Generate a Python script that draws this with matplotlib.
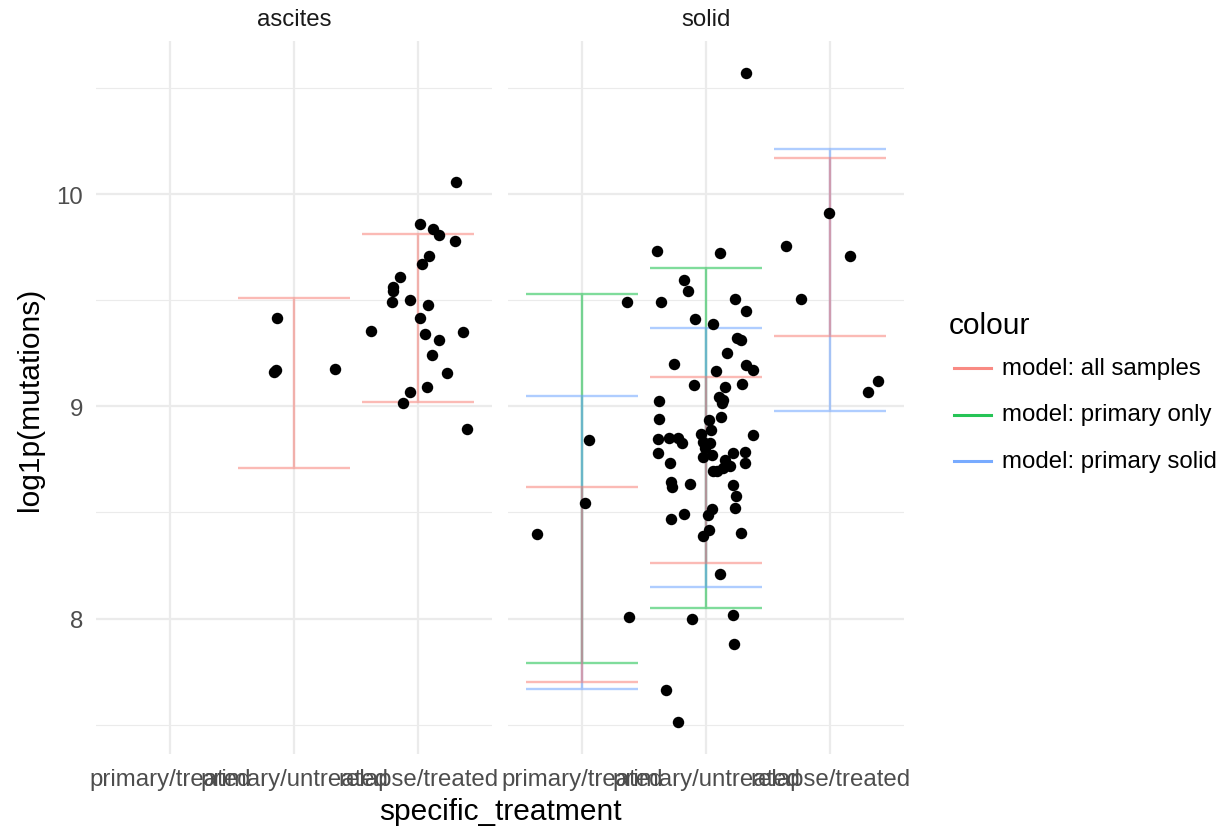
import numpy as np
import pandas as pd
import matplotlib
matplotlib.use("Agg")
import matplotlib.pyplot as plt
from matplotlib.lines import Line2D

plt.rcParams["font.family"] = ["Liberation Sans", "DejaVu Sans"]

# ==========================================
# DATA
# ==========================================
treatments = ["primary/treated", "primary/untreated", "relapse/treated"]
facets = ["ascites", "solid"]
model_names = ["model: all samples", "model: primary only", "model: primary solid"]
model_colors = ["#F8766D", "#00BA38", "#619CFF"]
# drawing order of the intervals (last one ends up on top)
draw_order = ["model: primary only", "model: primary solid", "model: all samples"]

# observed samples (jitter offset, log1p(mutations))
asc_untreated_jit = [-0.135, -0.145, -0.161, 0.331]
asc_untreated_val = [9.416, 9.169, 9.163, 9.175]

asc_relapse_jit = [0.306, 0.016, 0.119, 0.172, 0.298, 0.086, 0.032, -0.143,
                   -0.199, -0.204, -0.210, -0.062, 0.081, 0.016, -0.381, 0.056,
                   0.365, 0.172, 0.115, 0.231, 0.073, -0.067, -0.121, 0.395]
asc_relapse_val = [10.058, 9.859, 9.836, 9.808, 9.779, 9.706, 9.670, 9.607,
                   9.562, 9.541, 9.492, 9.502, 9.479, 9.416, 9.355, 9.339,
                   9.349, 9.313, 9.244, 9.158, 9.091, 9.066, 9.016, 8.892]

sol_treated_jit = [0.365, 0.056, 0.024, -0.365, 0.381]
sol_treated_val = [9.492, 8.842, 8.545, 8.399, 8.008]

sol_untreated_jit = [0.323, -0.393, 0.113, -0.177, -0.143, -0.363, 0.236, 0.323,
                     -0.089, 0.059, 0.252, 0.282, 0.169, -0.260, 0.323, 0.381,
                     0.078, -0.094, 0.153, 0.288, 0.105, 0.140, 0.127, -0.381,
                     -0.377, 0.027, 0.119, 0.038, -0.043, 0.381, -0.385, -0.296,
                     -0.228, -0.196, -0.022, 0.032, -0.008, 0.046, -0.022, -0.385,
                     -0.290, 0.220, 0.315, 0.153, 0.194, 0.140, 0.086, 0.315,
                     0.059, -0.282, -0.276, -0.127, 0.220, 0.242, 0.234, 0.046,
                     0.019, -0.175, -0.282, 0.024, -0.027, 0.282, 0.113, -0.115,
                     0.220, 0.228, -0.323, -0.228]
sol_untreated_val = [10.568, 9.731, 9.724, 9.593, 9.545, 9.493, 9.506, 9.449,
                     9.412, 9.386, 9.323, 9.313, 9.252, 9.199, 9.194, 9.170,
                     9.166, 9.100, 9.089, 9.103, 9.046, 9.030, 9.014, 9.023,
                     8.940, 8.936, 8.948, 8.889, 8.869, 8.865, 8.845, 8.850,
                     8.850, 8.826, 8.834, 8.826, 8.803, 8.771, 8.759, 8.779,
                     8.732, 8.779, 8.787, 8.748, 8.717, 8.709, 8.696, 8.732,
                     8.693, 8.643, 8.618, 8.632, 8.628, 8.579, 8.523, 8.516,
                     8.486, 8.493, 8.469, 8.419, 8.388, 8.404, 8.208, 7.997,
                     8.016, 7.879, 7.663, 7.515]

sol_relapse_jit = [-0.006, -0.355, 0.161, -0.236, 0.385, 0.304]
sol_relapse_val = [9.911, 9.753, 9.708, 9.504, 9.119, 9.066]

# model intervals
err_facet = ["ascites", "ascites",
             "solid", "solid", "solid",
             "solid", "solid", "solid",
             "solid", "solid"]
err_treat = ["primary/untreated", "relapse/treated",
             "primary/treated", "primary/treated", "primary/treated",
             "primary/untreated", "primary/untreated", "primary/untreated",
             "relapse/treated", "relapse/treated"]
err_model = ["model: all samples", "model: all samples",
             "model: all samples", "model: primary only", "model: primary solid",
             "model: all samples", "model: primary only", "model: primary solid",
             "model: all samples", "model: primary solid"]
err_lo = [8.71, 9.02, 7.70, 7.79, 7.67, 8.26, 8.05, 8.15, 9.33, 8.98]
err_hi = [9.51, 9.81, 8.62, 9.53, 9.05, 9.14, 9.65, 9.37, 10.17, 10.21]

# ==========================================
# BUILD TABLES
# ==========================================
pts = pd.concat([
    pd.DataFrame({"facet": "ascites", "treat": "primary/untreated",
                  "jit": asc_untreated_jit, "val": asc_untreated_val}),
    pd.DataFrame({"facet": "ascites", "treat": "relapse/treated",
                  "jit": asc_relapse_jit, "val": asc_relapse_val}),
    pd.DataFrame({"facet": "solid", "treat": "primary/treated",
                  "jit": sol_treated_jit, "val": sol_treated_val}),
    pd.DataFrame({"facet": "solid", "treat": "primary/untreated",
                  "jit": sol_untreated_jit, "val": sol_untreated_val}),
    pd.DataFrame({"facet": "solid", "treat": "relapse/treated",
                  "jit": sol_relapse_jit, "val": sol_relapse_val}),
], ignore_index=True)
pts["x"] = pts["treat"].map(treatments.index) + pts["jit"]

err = pd.DataFrame({"facet": err_facet, "treat": err_treat, "model": err_model,
                    "lo": err_lo, "hi": err_hi})
err["x"] = err["treat"].map(treatments.index)
err["order"] = err["model"].map(draw_order.index)
err = err.sort_values("order", kind="stable")

all_y = np.concatenate([pts["val"], err["lo"], err["hi"]])
y_pad = 0.05 * (all_y.max() - all_y.min())
ylim = (all_y.min() - y_pad, all_y.max() + y_pad)

# ==========================================
# FIGURE
# ==========================================
W, H = 1222, 828
fig = plt.figure(figsize=(W / 100, H / 100), dpi=100)

panel_px = [(95.6, 492.4), (507.6, 904.4)]
top_px, bot_px = 42, 755
grid_col = "#EBEBEB"
text_col = "#4D4D4D"
small = 17.3
big = 21.5

for i, facet in enumerate(facets):
    l, r = panel_px[i]
    ax = fig.add_axes([l / W, 1 - bot_px / H, (r - l) / W, (bot_px - top_px) / H])
    ax.set_xlim(-0.6, 2.6)
    ax.set_ylim(*ylim)
    for s in ax.spines.values():
        s.set_visible(False)
    ax.set_xticks(range(len(treatments)))
    ax.set_xticklabels(treatments)
    ax.set_yticks([8, 9, 10])
    ax.set_yticks([7.5, 8.5, 9.5, 10.5], minor=True)
    ax.set_yticklabels(["8", "9", "10"])
    ax.tick_params(which="both", length=0, colors=text_col, labelsize=small)
    ax.tick_params(axis="x", pad=10)
    ax.tick_params(axis="y", pad=9)
    ax.grid(which="major", color=grid_col, lw=1.6)
    ax.grid(which="minor", axis="y", color=grid_col, lw=0.8)
    ax.set_axisbelow(True)
    if i > 0:
        ax.tick_params(axis="y", labelleft=False)

    sub = err[err["facet"] == facet]
    for _, row in sub.iterrows():
        c = model_colors[model_names.index(row["model"])]
        x, lo, hi = row["x"], row["lo"], row["hi"]
        w = 0.45
        ax.plot([x - w, x + w, np.nan, x, x, np.nan, x - w, x + w],
                [hi, hi, np.nan, hi, lo, np.nan, lo, lo],
                color=c, alpha=0.5, lw=1.7, solid_capstyle="butt", zorder=2)

    p = pts[pts["facet"] == facet]
    ax.scatter(p["x"], p["val"], s=68, color="black", linewidths=0, zorder=3)

    fig.text((l + r) / 2 / W, 1 - 20 / H, facet, ha="center", va="center",
             size=small, color="#1A1A1A")

# axis titles
fig.text(500 / W, 1 - 812 / H, "specific_treatment", ha="center", va="center", size=big)
fig.text(30 / W, 1 - 399 / H, "log1p(mutations)", ha="center", va="center",
         rotation=90, size=big)

# legend
fig.text(949 / W, 1 - 326 / H, "colour", ha="left", va="center", size=big)
for k, (name, col) in enumerate(zip(model_names, model_colors)):
    yy = 1 - (369 + 46.5 * k) / H
    fig.add_artist(Line2D([954 / W, 991 / W], [yy, yy], color=col, lw=2.2, alpha=0.85))
    fig.text(1002 / W, yy, name, ha="left", va="center", size=small)

fig.savefig("out.png", dpi=100, facecolor="white")
